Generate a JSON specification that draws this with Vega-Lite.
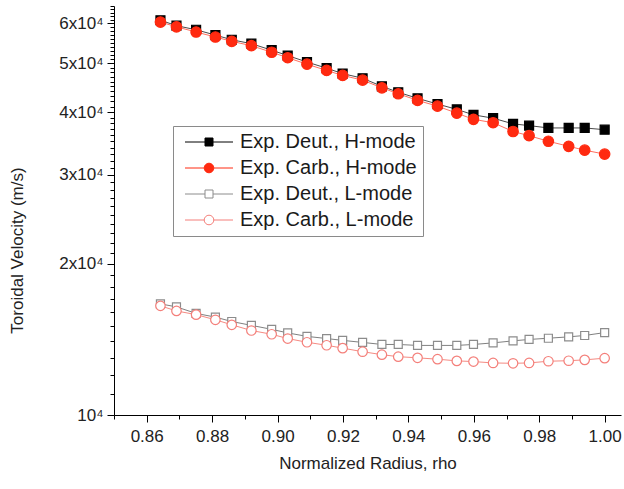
{
  "$schema": "https://vega.github.io/schema/vega-lite/v6.json",
  "width": 507,
  "height": 409,
  "autosize": "none",
  "padding": {"left": 114, "top": 6, "right": 3, "bottom": 74},
  "config": {
    "view": {"stroke": null},
    "font": "Liberation Sans",
    "axis": {"grid": false, "domainColor": "#000", "tickColor": "#000", "labelColor": "#222", "titleColor": "#222", "labelFontSize": 17, "titleFontSize": 17, "titleFontWeight": "normal", "labelFont": "Liberation Sans", "titleFont": "Liberation Sans"},
    "legend": {"title": null, "orient": "none", "legendX": 59, "legendY": 120,
      "strokeColor": "#8a8a8a", "fillColor": "#ffffff", "padding": 6,
      "labelFont": "Liberation Sans", "labelFontSize": 20, "labelColor": "#1a1a1a", "labelLimit": 400,
      "symbolSize": 64, "labelOffset": 41, "rowPadding": 6, "symbolStrokeWidth": 1}
  },
  "datasets": {
    "pts": [
      {"series": "Exp. Deut., H-mode", "rho": 0.8642, "v": 60900},
      {"series": "Exp. Deut., H-mode", "rho": 0.8691, "v": 59400},
      {"series": "Exp. Deut., H-mode", "rho": 0.8751, "v": 58300},
      {"series": "Exp. Deut., H-mode", "rho": 0.8810, "v": 56900},
      {"series": "Exp. Deut., H-mode", "rho": 0.8860, "v": 55700},
      {"series": "Exp. Deut., H-mode", "rho": 0.8920, "v": 54700},
      {"series": "Exp. Deut., H-mode", "rho": 0.8982, "v": 53100},
      {"series": "Exp. Deut., H-mode", "rho": 0.9031, "v": 51800},
      {"series": "Exp. Deut., H-mode", "rho": 0.9090, "v": 50300},
      {"series": "Exp. Deut., H-mode", "rho": 0.9150, "v": 48900},
      {"series": "Exp. Deut., H-mode", "rho": 0.9199, "v": 47700},
      {"series": "Exp. Deut., H-mode", "rho": 0.9260, "v": 46700},
      {"series": "Exp. Deut., H-mode", "rho": 0.9319, "v": 45000},
      {"series": "Exp. Deut., H-mode", "rho": 0.9369, "v": 43800},
      {"series": "Exp. Deut., H-mode", "rho": 0.9428, "v": 42600},
      {"series": "Exp. Deut., H-mode", "rho": 0.9489, "v": 41500},
      {"series": "Exp. Deut., H-mode", "rho": 0.9548, "v": 40500},
      {"series": "Exp. Deut., H-mode", "rho": 0.9599, "v": 39500},
      {"series": "Exp. Deut., H-mode", "rho": 0.9659, "v": 38900},
      {"series": "Exp. Deut., H-mode", "rho": 0.9720, "v": 37900},
      {"series": "Exp. Deut., H-mode", "rho": 0.9769, "v": 37600},
      {"series": "Exp. Deut., H-mode", "rho": 0.9828, "v": 37200},
      {"series": "Exp. Deut., H-mode", "rho": 0.9890, "v": 37200},
      {"series": "Exp. Deut., H-mode", "rho": 0.9939, "v": 37200},
      {"series": "Exp. Deut., H-mode", "rho": 1.0000, "v": 36900},
      {"series": "Exp. Deut., L-mode", "rho": 0.8642, "v": 16630},
      {"series": "Exp. Deut., L-mode", "rho": 0.8691, "v": 16400},
      {"series": "Exp. Deut., L-mode", "rho": 0.8751, "v": 15920},
      {"series": "Exp. Deut., L-mode", "rho": 0.8810, "v": 15650},
      {"series": "Exp. Deut., L-mode", "rho": 0.8860, "v": 15340},
      {"series": "Exp. Deut., L-mode", "rho": 0.8920, "v": 15070},
      {"series": "Exp. Deut., L-mode", "rho": 0.8982, "v": 14800},
      {"series": "Exp. Deut., L-mode", "rho": 0.9031, "v": 14560},
      {"series": "Exp. Deut., L-mode", "rho": 0.9090, "v": 14330},
      {"series": "Exp. Deut., L-mode", "rho": 0.9150, "v": 14190},
      {"series": "Exp. Deut., L-mode", "rho": 0.9199, "v": 14070},
      {"series": "Exp. Deut., L-mode", "rho": 0.9260, "v": 13940},
      {"series": "Exp. Deut., L-mode", "rho": 0.9319, "v": 13810},
      {"series": "Exp. Deut., L-mode", "rho": 0.9369, "v": 13810},
      {"series": "Exp. Deut., L-mode", "rho": 0.9428, "v": 13750},
      {"series": "Exp. Deut., L-mode", "rho": 0.9489, "v": 13750},
      {"series": "Exp. Deut., L-mode", "rho": 0.9548, "v": 13750},
      {"series": "Exp. Deut., L-mode", "rho": 0.9599, "v": 13810},
      {"series": "Exp. Deut., L-mode", "rho": 0.9659, "v": 13910},
      {"series": "Exp. Deut., L-mode", "rho": 0.9720, "v": 14040},
      {"series": "Exp. Deut., L-mode", "rho": 0.9769, "v": 14130},
      {"series": "Exp. Deut., L-mode", "rho": 0.9828, "v": 14210},
      {"series": "Exp. Deut., L-mode", "rho": 0.9890, "v": 14300},
      {"series": "Exp. Deut., L-mode", "rho": 0.9939, "v": 14390},
      {"series": "Exp. Deut., L-mode", "rho": 1.0000, "v": 14580},
      {"series": "Exp. Carb., H-mode", "rho": 0.8642, "v": 60400},
      {"series": "Exp. Carb., H-mode", "rho": 0.8691, "v": 59100},
      {"series": "Exp. Carb., H-mode", "rho": 0.8751, "v": 57700},
      {"series": "Exp. Carb., H-mode", "rho": 0.8810, "v": 56400},
      {"series": "Exp. Carb., H-mode", "rho": 0.8860, "v": 55300},
      {"series": "Exp. Carb., H-mode", "rho": 0.8920, "v": 54200},
      {"series": "Exp. Carb., H-mode", "rho": 0.8982, "v": 52600},
      {"series": "Exp. Carb., H-mode", "rho": 0.9031, "v": 51300},
      {"series": "Exp. Carb., H-mode", "rho": 0.9090, "v": 49800},
      {"series": "Exp. Carb., H-mode", "rho": 0.9150, "v": 48400},
      {"series": "Exp. Carb., H-mode", "rho": 0.9199, "v": 47300},
      {"series": "Exp. Carb., H-mode", "rho": 0.9260, "v": 46300},
      {"series": "Exp. Carb., H-mode", "rho": 0.9319, "v": 44700},
      {"series": "Exp. Carb., H-mode", "rho": 0.9369, "v": 43500},
      {"series": "Exp. Carb., H-mode", "rho": 0.9428, "v": 42200},
      {"series": "Exp. Carb., H-mode", "rho": 0.9489, "v": 41100},
      {"series": "Exp. Carb., H-mode", "rho": 0.9548, "v": 39800},
      {"series": "Exp. Carb., H-mode", "rho": 0.9599, "v": 38700},
      {"series": "Exp. Carb., H-mode", "rho": 0.9659, "v": 38100},
      {"series": "Exp. Carb., H-mode", "rho": 0.9720, "v": 36600},
      {"series": "Exp. Carb., H-mode", "rho": 0.9769, "v": 35900},
      {"series": "Exp. Carb., H-mode", "rho": 0.9828, "v": 35000},
      {"series": "Exp. Carb., H-mode", "rho": 0.9890, "v": 34200},
      {"series": "Exp. Carb., H-mode", "rho": 0.9939, "v": 33600},
      {"series": "Exp. Carb., H-mode", "rho": 1.0000, "v": 33000},
      {"series": "Exp. Carb., L-mode", "rho": 0.8642, "v": 16480},
      {"series": "Exp. Carb., L-mode", "rho": 0.8691, "v": 16100},
      {"series": "Exp. Carb., L-mode", "rho": 0.8751, "v": 15830},
      {"series": "Exp. Carb., L-mode", "rho": 0.8810, "v": 15460},
      {"series": "Exp. Carb., L-mode", "rho": 0.8860, "v": 15110},
      {"series": "Exp. Carb., L-mode", "rho": 0.8920, "v": 14720},
      {"series": "Exp. Carb., L-mode", "rho": 0.8982, "v": 14470},
      {"series": "Exp. Carb., L-mode", "rho": 0.9031, "v": 14190},
      {"series": "Exp. Carb., L-mode", "rho": 0.9090, "v": 13950},
      {"series": "Exp. Carb., L-mode", "rho": 0.9150, "v": 13760},
      {"series": "Exp. Carb., L-mode", "rho": 0.9199, "v": 13580},
      {"series": "Exp. Carb., L-mode", "rho": 0.9260, "v": 13360},
      {"series": "Exp. Carb., L-mode", "rho": 0.9319, "v": 13180},
      {"series": "Exp. Carb., L-mode", "rho": 0.9369, "v": 13060},
      {"series": "Exp. Carb., L-mode", "rho": 0.9428, "v": 12990},
      {"series": "Exp. Carb., L-mode", "rho": 0.9489, "v": 12910},
      {"series": "Exp. Carb., L-mode", "rho": 0.9548, "v": 12810},
      {"series": "Exp. Carb., L-mode", "rho": 0.9599, "v": 12770},
      {"series": "Exp. Carb., L-mode", "rho": 0.9659, "v": 12690},
      {"series": "Exp. Carb., L-mode", "rho": 0.9720, "v": 12670},
      {"series": "Exp. Carb., L-mode", "rho": 0.9769, "v": 12690},
      {"series": "Exp. Carb., L-mode", "rho": 0.9828, "v": 12790},
      {"series": "Exp. Carb., L-mode", "rho": 0.9890, "v": 12820},
      {"series": "Exp. Carb., L-mode", "rho": 0.9939, "v": 12870},
      {"series": "Exp. Carb., L-mode", "rho": 1.0000, "v": 12970}
    ]
  },
  "data": {"name": "pts"},
  "layer": [
    {
      "mark": {"type": "line", "strokeWidth": 1},
      "encoding": {
        "x": {"field": "rho", "type": "quantitative", "scale": {"domain": [0.85, 1.005], "nice": false, "zero": false},
          "axis": {"orient": "bottom", "values": [0.86, 0.88, 0.9, 0.92, 0.94, 0.96, 0.98, 1.0], "format": ".2f", "tickSize": 7, "labelPadding": 6, "title": "Normalized Radius, rho", "titlePadding": 11}},
        "y": {"field": "v", "type": "quantitative", "scale": {"type": "log", "domain": [10000, 65000], "nice": false},
          "axis": {"orient": "left", "values": [10000, 20000, 30000, 40000, 50000, 60000], "labelExpr": "datum.value == 10000 ? '10⁴' : (datum.value / 10000) + 'x10⁴'", "tickSize": 7, "labelPadding": 4, "title": "Toroidal Velocity (m/s)", "titleX": -97, "titleY": 244, "titleBaseline": "middle"}},
        "detail": {"field": "series", "type": "nominal"},
        "stroke": {"condition": [
          {"test": "datum.series == 'Exp. Deut., H-mode'", "value": "#4a4a4a"},
          {"test": "datum.series == 'Exp. Carb., H-mode'", "value": "#ff6f60"},
          {"test": "datum.series == 'Exp. Deut., L-mode'", "value": "#808080"}
        ], "value": "#f58a82"}
      }
    },
    {
      "mark": {"type": "point", "strokeWidth": 1.2, "opacity": 1, "filled": false},
      "encoding": {
        "x": {"field": "rho", "type": "quantitative",
          "axis": {"orient": "bottom", "values": [0.85, 0.87, 0.89, 0.91, 0.93, 0.95, 0.97, 0.99], "labels": false, "domain": false, "tickSize": 4, "title": null}},
        "y": {"field": "v", "type": "quantitative",
          "axis": {"orient": "left", "values": [11000, 12000, 13000, 14000, 15000, 16000, 17000, 18000, 19000, 21000, 22000, 23000, 24000, 25000, 26000, 27000, 28000, 29000, 31000, 32000, 33000, 34000, 35000, 36000, 37000, 38000, 39000, 41000, 42000, 43000, 44000, 45000, 46000, 47000, 48000, 49000, 51000, 52000, 53000, 54000, 55000, 56000, 57000, 58000, 59000, 61000, 62000, 63000, 64000, 65000], "labels": false, "domain": false, "tickSize": 4, "title": null}},
        "shape": {"condition": {"test": "indexof(datum.series, 'Deut') >= 0", "value": "square"}, "value": "circle"},
        "fill": {"field": "series", "type": "nominal",
          "scale": {"domain": ["Exp. Deut., H-mode", "Exp. Carb., H-mode", "Exp. Deut., L-mode", "Exp. Carb., L-mode"], "range": ["#000000", "#ff2a10", "#ffffff", "#ffffff"]}},
        "stroke": {"field": "series", "type": "nominal",
          "scale": {"domain": ["Exp. Deut., H-mode", "Exp. Carb., H-mode", "Exp. Deut., L-mode", "Exp. Carb., L-mode"], "range": ["#000000", "#ff2a10", "#8c8c8c", "#f47f7a"]}},
        "size": {"condition": [
          {"test": "datum.series == 'Exp. Deut., H-mode'", "value": 81},
          {"test": "datum.series == 'Exp. Carb., H-mode'", "value": 110},
          {"test": "datum.series == 'Exp. Deut., L-mode'", "value": 64}
        ], "value": 90}
      }
    },
    {
      "transform": [{"filter": "datum.rho < 0"}],
      "mark": {"type": "point", "strokeWidth": 1, "opacity": 1, "filled": false},
      "encoding": {
        "x": {"field": "rho", "type": "quantitative", "axis": null},
        "y": {"field": "v", "type": "quantitative", "axis": null},
        "shape": {"field": "series", "type": "nominal",
          "scale": {"domain": ["Exp. Deut., H-mode", "Exp. Carb., H-mode", "Exp. Deut., L-mode", "Exp. Carb., L-mode"],
            "range": ["M-1,0H4M6,0H11M4,-1H6V1H4Z", "M-1,0H3.8M6.2,0H11M3.8,0A1.2,1.2,0,1,1,6.2,0A1.2,1.2,0,1,1,3.8,0Z", "M-1,0H4M6,0H11M4,-1H6V1H4Z", "M-1,0H3.8M6.2,0H11M3.8,0A1.2,1.2,0,1,1,6.2,0A1.2,1.2,0,1,1,3.8,0Z"]}},
        "fill": {"field": "series", "type": "nominal"},
        "stroke": {"field": "series", "type": "nominal"}
      }
    }
  ],
  "resolve": {"axis": {"x": "independent", "y": "independent"}}
}
